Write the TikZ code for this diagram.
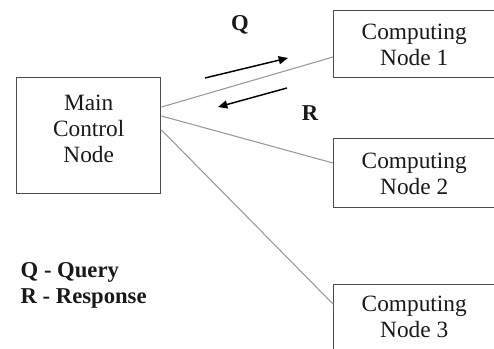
\documentclass[tikz,border=0pt]{standalone}
\usepackage{fontspec}
\setmainfont{Liberation Serif}
\usetikzlibrary{calc,arrows.meta}
\begin{document}
\begin{tikzpicture}[x=0.75pt,y=-0.75pt,
  boxstyle/.style={draw=black!70,line width=1.1pt,rectangle,inner sep=0pt},
  txt/.style={align=center,font=\fontsize{17.5}{19.5}\selectfont,text=black!90},
  link/.style={draw=black!40,line width=0.8pt},
  flow/.style={draw=black,line width=1.1pt,-{Triangle[length=7pt,width=6pt]}},
  lbl/.style={font=\fontsize{17}{20}\selectfont\bfseries,text=black!90}]
  \clip (0,0) rectangle (494,349);
  \useasboundingbox (0,0) rectangle (494,349);

  % boxes (sizes in pt: 1 unit = 0.75pt)
  \node[boxstyle,minimum width=108pt,minimum height=87pt,anchor=north west] (main) at (16,77) {};
  \node[boxstyle,minimum width=123.75pt,minimum height=50.25pt,anchor=north west] (cn1) at (333,10) {};
  \node[boxstyle,minimum width=123.75pt,minimum height=51.75pt,anchor=north west] (cn2) at (333,138) {};
  \node[boxstyle,minimum width=123.75pt,minimum height=50.25pt,anchor=north west] (cn3) at (333,284) {};

  % box texts
  \node[txt] (maintxt) at ($(main.center)+(0,-7)$) {Main\\Control\\Node};
  \node[txt] (cn1txt) at ($(cn1.center)+(-2,1)$) {Computing\\Node 1};
  \node[txt] (cn2txt) at ($(cn2.center)+(-2,1)$) {Computing\\Node 2};
  \node[txt] (cn3txt) at ($(cn3.center)+(-2,-1)$) {Computing\\Node 3};

  % links from the control node to each computing node
  \draw[link] ($(main.north east)+(0,30)$) -- ($(cn1.north west)+(0,47)$);
  \draw[link] ($(main.north east)+(0,39)$) -- ($(cn2.north west)+(0,25)$);
  \draw[link] ($(main.north east)+(0,53)$) -- ($(cn3.north west)+(0,20)$);

  % query / response direction arrows
  \coordinate (qs) at (205,78);
  \coordinate (qe) at (288,58);
  \coordinate (rs) at (287,88);
  \coordinate (re) at (218,107);
  \draw[flow] (qs) -- (qe);
  \draw[flow] (rs) -- (re);
  \node[lbl] (qlbl) at (240,25) {Q};
  \node[lbl] (rlbl) at (310,113) {R};

  % legend
  \node[lbl,align=left,anchor=base west] (legend) at (16,304) {Q - Query\\R - Response};
\end{tikzpicture}
\end{document}
